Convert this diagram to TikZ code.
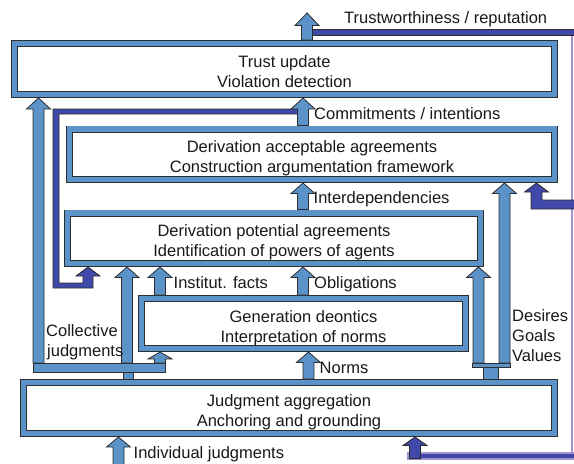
\documentclass[tikz,border=0pt]{standalone}
\usepackage{fontspec}
\setmainfont{Liberation Sans}
\usetikzlibrary{calc}
\definecolor{boxblue}{RGB}{91,146,200}
\definecolor{fbblue}{RGB}{64,72,170}
\definecolor{fbpurple}{RGB}{165,145,205}
\definecolor{edgec}{RGB}{45,45,45}
\definecolor{txtc}{RGB}{25,25,25}
\newcommand\FirstStrut{\rule{0pt}{21pt}}
\newcommand\LastStrut{\rule[-4pt]{0pt}{4pt}}
% #1 style, #2 x, #3 from (bottom) point, #4 to (tip) point, #5 head length
\newcommand\BlkArr[5]{%
  \draw[#1] let \p1=(#3 -| #2,0), \p2=(#4 -| #2,0) in
   (\x1-5.5pt,\y1) -- (\x1-5.5pt,\y2-#5pt) -- (\x1-12pt,\y2-#5pt) -- (\x1,\y2)
   -- (\x1+12pt,\y2-#5pt) -- (\x1+5.5pt,\y2-#5pt) -- (\x1+5.5pt,\y1) -- cycle;}
\tikzset{
 frame/.style={draw=edgec, line width=0.8pt, double=boxblue, double distance=5.4pt,
   fill=white, inner sep=0pt, outer sep=3.5pt, font=\fontsize{16.5}{20}\selectfont,
   text=txtc, align=center},
 lbl/.style={anchor=base west, inner sep=0pt, font=\fontsize{16.5}{20}\selectfont, text=txtc},
 blk/.style={draw=edgec, line width=0.8pt, fill=boxblue},
 fb/.style={draw=edgec, line width=0.8pt, fill=fbblue},
 barbox/.style={draw=edgec, line width=0.8pt, fill=boxblue, inner sep=0pt, outer sep=0pt},
}
\begin{document}
\begin{tikzpicture}[x=1pt,y=-1pt]
\useasboundingbox (0,0) rectangle (574,464);
\fill[white] (0,0) rectangle (574,464);

% boxes
\node[frame, minimum width=540pt, minimum height=51pt] (trust) at (284.5,69)
  {\FirstStrut Trust update\\Violation detection\LastStrut};
\node[frame, minimum width=485pt, minimum height=50.5pt] (acc) at (312,154.25)
  {\FirstStrut Derivation acceptable agreements\\Construction argumentation framework\LastStrut};
\node[frame, minimum width=413pt, minimum height=50.5pt] (pot) at (274,238.25)
  {\FirstStrut Derivation potential agreements\\Identification of powers of agents\LastStrut};
\node[frame, minimum width=324pt, minimum height=50pt] (deon) at (303.5,323.5)
  {\FirstStrut Generation deontics\\Interpretation of norms\LastStrut};
\node[frame, minimum width=531pt, minimum height=51pt] (judg) at (289,408)
  {\FirstStrut Judgment aggregation\\Anchoring and grounding\LastStrut};

% feedback lines (dark blue / purple)
\draw[fbpurple, line width=2pt] (572,32) -- (572,456);
\draw[fb] (312.5,29) rectangle (576,35);
\draw[fb] (297.5,109) -- (53,109) -- (53,288) -- (93,288) -- (93,276) -- (100,276)
  -- (88,267) -- (76,276) -- (83,276) -- (83,283) -- (59,283) -- (59,114) -- (297.5,114) -- cycle;
\draw[fb] (576,200) -- (542,200) -- (542,192) -- (548.5,192) -- (536.5,183) -- (524.5,192)
  -- (531,192) -- (531,209) -- (576,209);
\draw[fill=fbblue, draw=fbpurple, line width=1.2pt] (408,453) rectangle (577,459);
\coordinate (botbase) at (415,458.6);
\BlkArr{fb}{415}{botbase}{judg.south}{8.5}

% brackets
\node[barbox, minimum width=132pt, minimum height=9pt] (colbar) at (99,367.5) {};
\node[barbox, minimum width=38pt, minimum height=4pt] (desbar) at (491,365) {};
\draw[blk] (colbar.south -| 123,0) rectangle (judg.north -| 133,0);
\draw[blk] (desbar.south -| 483,0) rectangle (judg.north -| 498,0);

\coordinate (toptip) at (307,13);
\coordinate (indiv) at (118.5,466);

% block arrows
\BlkArr{blk}{307}{trust.north}{toptip}{12.5}
\BlkArr{blk}{38.5}{colbar.north}{trust.south}{11}
\BlkArr{blk}{303}{acc.north}{trust.south}{11}
\BlkArr{blk}{303}{pot.north}{acc.south}{10.5}
\BlkArr{blk}{303}{deon.north}{pot.south}{10.5}
\BlkArr{blk}{160}{deon.north}{pot.south}{10.5}
\BlkArr{blk}{127}{colbar.north}{pot.south}{10.5}
\BlkArr{blk}{160}{colbar.north}{deon.south}{7}
\BlkArr{blk}{308.5}{judg.north}{deon.south}{10.5}
\BlkArr{blk}{478.5}{desbar.north}{pot.south}{10.5}
\BlkArr{blk}{504.5}{desbar.north}{acc.south}{10.5}
\BlkArr{blk}{118.5}{indiv}{judg.south}{10}

% labels
\node[lbl] (tw) at (344,23) {Trustworthiness / reputation};
\node[lbl] (cm) at (314,119.5) {Commitments / intentions};
\node[lbl] (idp) at (313.5,203) {Interdependencies};
\node[lbl] (inf) at (173.5,288) {Institut. facts};
\node[lbl] (obl) at (314,288) {Obligations};
\node[lbl] (cj1) at (46,336) {Collective};
\node[lbl] (cj2) at (47,356) {judgments};
\node[lbl] (nrm) at (319.5,373) {Norms};
\node[lbl] (ds1) at (512,321) {Desires};
\node[lbl] (ds2) at (512,341) {Goals};
\node[lbl] (ds3) at (512,361) {Values};
\node[lbl] (ij) at (133.5,458) {Individual judgments};
\end{tikzpicture}
\end{document}
